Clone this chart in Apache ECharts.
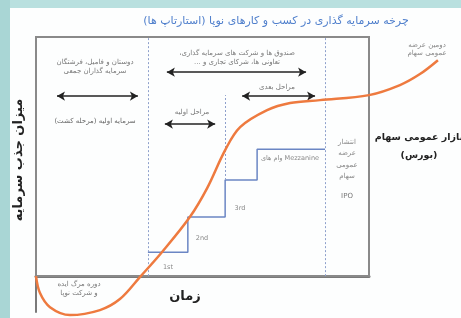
<!DOCTYPE html>
<html>
<head>
<meta charset="utf-8">
<script src="https://cdn.jsdelivr.net/npm/echarts@6/dist/echarts.min.js"></script>
<style>
  html, body { margin: 0; padding: 0; background: #fff; }
  #chart { width: 461px; height: 318px; }
</style>
</head>
<body>
<div id="chart" dir="rtl"></div>
<script>
// startup investment cycle
// x = time (0..100 inside the box), y = capital raised (0 on the time axis)
const curveTime = [0, 1.2, 4.2, 10.2, 19.2, 25.2, 31.2, 37.8, 46.2, 51.4, 56.8, 61.3, 69.4, 76.3, 85.3, 100, 109.3, 115.3, 120.7];
const curveCapital = [0, -7.1, -13.0, -16.3, -14.2, -9.6, -0.4, 10.0, 24.7, 36.8, 52.7, 62.3, 69.4, 72.4, 73.6, 75.7, 79.9, 84.5, 90.3];

// funding rounds staircase
const roundTime = [33.6, 45.6, 56.8, 66.4, 86.8];
const roundLevel = [10, 24.7, 40.2, 53.1, 53.1];
const roundNames = ['1st', '2nd', '3rd', 'Mezzanine وام های'];

// dotted dividers [time, from, to]
const dividers = [[33.6, 0, 100], [86.8, 0, 100], [56.8, 40.2, 75.7]];

// arrows [from time, to time, level]
const spans = [[6.3, 30.6, 75.3], [39.3, 81.1, 85.3], [61.9, 83.8, 75.3], [38.7, 53.8, 63.6]];

const title = 'چرخه سرمایه گذاری در کسب و کارهای نوپا (استارتاپ ها)';
const yName = 'میزان جذب سرمایه';
const xName = 'زمان';
const notes = {
  seed: 'دوستان و فامیل، فرشتگان\nسرمایه گذاران جمعی',
  seedStage: '\u200Fسرمایه اولیه (مرحله کشت)\u200F',
  funds: 'صندوق ها و شرکت های سرمایه گذاری،\nتعاونی ها، شرکای تجاری و ...',
  later: 'مراحل بعدی',
  early: 'مراحل اولیه',
  ipo: 'انتشار\nعرضه\nعمومی\nسهام',
  death: 'دوره مرگ ایده\nو شرکت نوپا',
  second: 'دومین عرضه\nعمومی سهام',
  market: '\u200Fبازار عمومی سهام\n(بورس)\u200F'
};

const FONT = '"DejaVu Sans", sans-serif';
function txt(s, x, y, size, color, weight, lh, extra) {
  return Object.assign({
    type: 'text', x: x, y: y, z: 50,
    style: {
      text: s, fill: color || '#777',
      font: (weight || 'normal') + ' ' + size + 'px ' + FONT,
      align: 'center', verticalAlign: 'middle',
      lineHeight: lh || size + 2
    }
  }, extra || {});
}

const chart = echarts.init(document.getElementById('chart'));

let divLines = dividers.map(d => [{ coord: [d[0], d[1]] }, { coord: [d[0], d[2]] }]);
let arrowLines = spans.map(s => [{ coord: [s[0], s[2]] }, { coord: [s[1], s[2]] }]);

const option = {
  backgroundColor: '#fdfefe',
  animation: false,
  grid: [
    // plotting area, wide enough for the curve that leaves the box
    { left: 36, top: 37, width: 416.25, height: 275 },
    // the framed box
    { left: 36, top: 37, width: 333, height: 239, show: true, borderColor: '#8a8a8a', borderWidth: 2, z: 1 }
  ],
  xAxis: [
    { type: 'value', gridIndex: 0, min: 0, max: 125, show: false },
    { type: 'value', gridIndex: 1, min: 0, max: 100,
      axisLine: { show: true, lineStyle: { color: '#7a7a7a', width: 3 } },
      axisTick: { show: false }, axisLabel: { show: false }, splitLine: { show: false } }
  ],
  yAxis: [
    { type: 'value', gridIndex: 0, min: -15, max: 100,
      axisLine: { show: true, lineStyle: { color: '#7a7a7a', width: 2 } },
      axisTick: { show: false }, axisLabel: { show: false }, splitLine: { show: false } },
    { type: 'value', gridIndex: 1, min: 0, max: 100, show: false }
  ],
  series: [
    {
      type: 'line', step: 'end', symbol: 'none', silent: true,
      data: roundTime.map((t, i) => [t, roundLevel[i]]),
      lineStyle: { color: '#6b86c4', width: 1.5 },
      markLine: {
        silent: true, symbol: 'none', label: { show: false },
        lineStyle: { color: '#8ea0cc', width: 1, type: [2, 2] },
        data: divLines
      },
      z: 3
    },
    {
      type: 'line', symbol: 'none', silent: true,
      data: [],
      markLine: {
        silent: true, symbol: ['arrow', 'arrow'], symbolSize: [7, 8],
        label: { show: false },
        lineStyle: { color: '#222', width: 1.5, type: 'solid' },
        data: arrowLines
      }
    },
    {
      type: 'line', smooth: 0.35, symbol: 'none', clip: false, silent: true,
      data: curveTime.map((t, i) => [t, curveCapital[i]]),
      lineStyle: { color: '#ee7a3f', width: 2.5 },
      z: 5
    }
  ],
  graphic: [
    { type: 'rect', shape: { x: 0, y: 0, width: 461, height: 8 }, style: { fill: '#b9e0df' }, z: -10, silent: true },
    { type: 'rect', shape: { x: 0, y: 0, width: 10, height: 318 }, style: { fill: '#a9d6d5' }, z: -10, silent: true },
    txt(title, 276, 21, 11, '#4f7fcc'),
    txt(yName, 19, 160, 13, '#222', 'bold', 15, { rotation: Math.PI / 2 }),
    txt(xName, 185, 297, 13, '#222', 'bold'),
    txt(notes.seed, 95, 67, 7, '#777', 'normal', 9),
    txt(notes.seedStage, 95, 121, 7, '#666'),
    txt(notes.funds, 237, 58, 7, '#777', 'normal', 9),
    txt(notes.later, 277, 87, 7, '#777'),
    txt(notes.early, 192, 112, 7, '#777'),
    txt(notes.ipo, 347, 159, 7, '#888', 'normal', 11.5),
    txt('IPO', 347, 196, 7, '#777'),
    txt(notes.death, 79, 289, 7, '#777', 'normal', 9),
    txt(notes.second, 427, 49, 7, '#888', 'normal', 8.5),
    txt(notes.market, 419, 147, 9.5, '#222', 'bold', 18),
    txt(roundNames[0], 168, 267, 6.5, '#888'),
    txt(roundNames[1], 202, 238, 6.5, '#888'),
    txt(roundNames[2], 240, 208, 6.5, '#888'),
    txt(roundNames[3], 290, 158, 6.5, '#888')
  ]
};
chart.setOption(option);
</script>
</body>
</html>
